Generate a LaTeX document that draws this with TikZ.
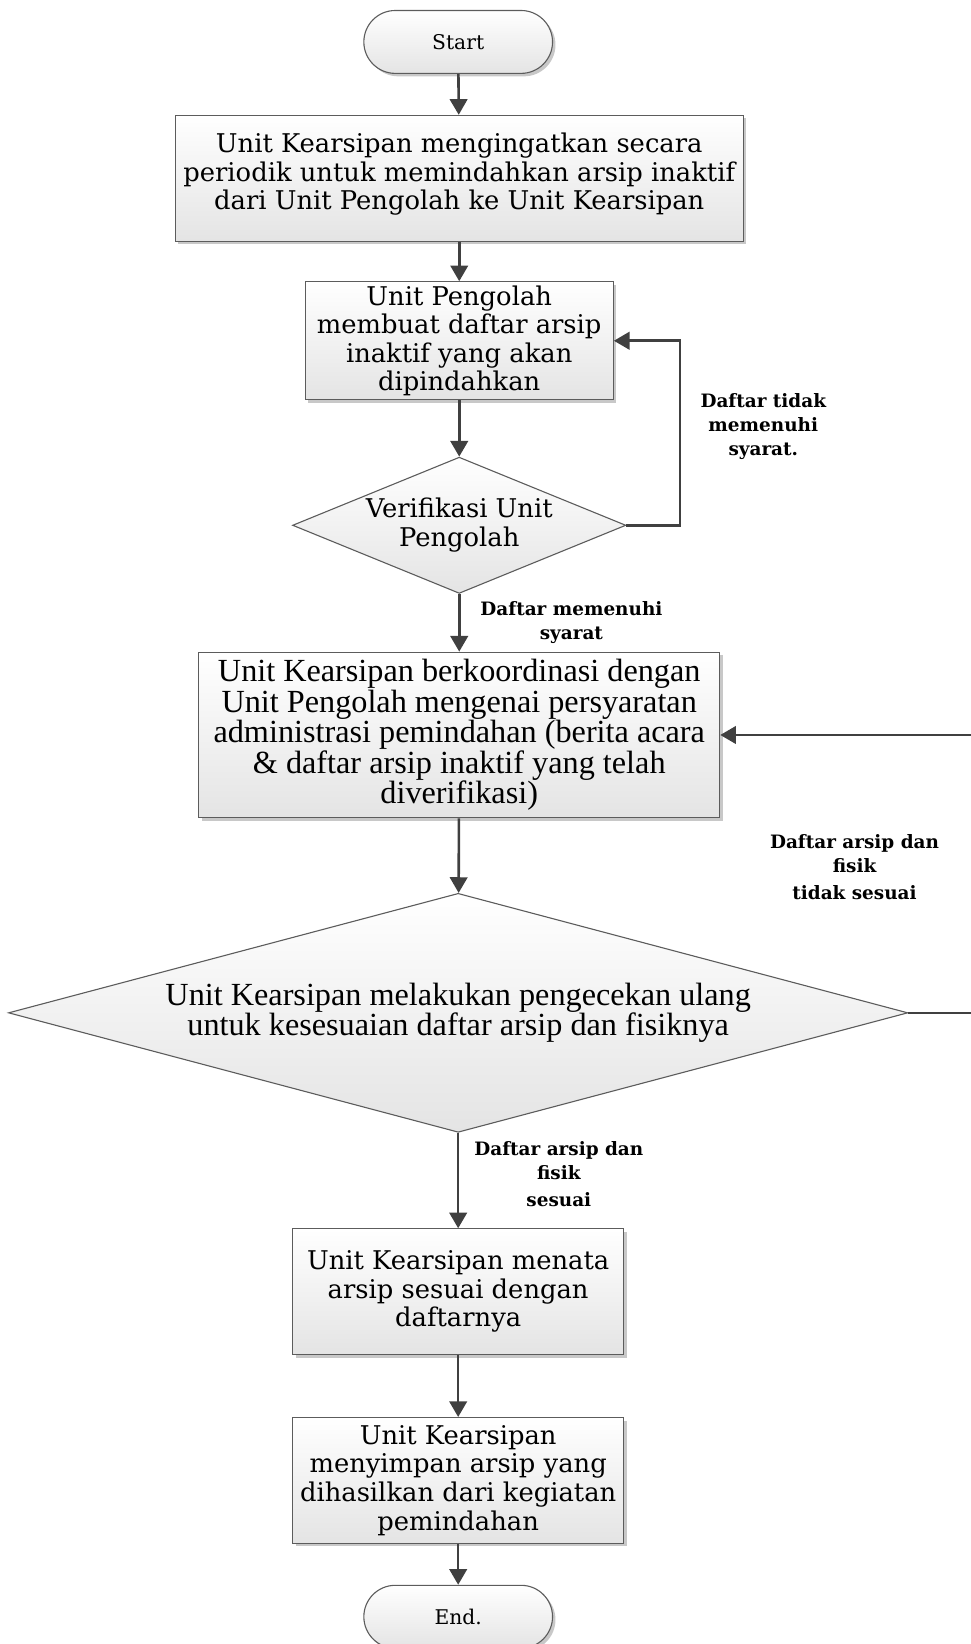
\documentclass[tikz,border=0pt]{standalone}
\usepackage{fontspec}
\setmainfont{DejaVu Serif}
\newfontfamily\sempit{Liberation Serif}
\usepackage{tikz}
\usetikzlibrary{arrows.meta,shapes.geometric,shadows}
\definecolor{garis}{HTML}{404040}
\definecolor{tepi}{HTML}{5C5C5C}
\definecolor{bayang}{HTML}{C8C8C8}
\definecolor{isi}{HTML}{E4E4E4}

\begin{document}
\begin{tikzpicture}[x=0.02cm, y=-0.02cm]

        \tikzset{kotak/.style = {shape=rectangle, draw=tepi, line width=0.6pt, top color=white, bottom color=isi, drop shadow={shadow xshift=1.6pt, shadow yshift=-1.6pt, fill=bayang, opacity=1}, align=center, inner sep=2pt, font=\fontsize{14}{15.5}\selectfont}}
        \tikzset{terminal/.style = {kotak, rounded corners=0.6cm, minimum width=3.6cm, minimum height=1.2cm, font=\fontsize{11}{13}\selectfont}}
        \tikzset{keputusan/.style = {shape=diamond, draw=tepi, line width=0.6pt, top color=white, bottom color=isi, align=center, inner sep=0pt, font=\fontsize{14}{15.5}\selectfont}}
        \tikzset{panah/.style = {draw=garis, line width=1.4pt, -{Triangle[width=9.5pt,length=8.5pt]}}}
        \tikzset{ket/.style = {align=center, inner sep=0pt, font=\fontsize{10}{13}\selectfont\bfseries}}

        \useasboundingbox (0,0) rectangle (926,1568);
        \clip (0,0) rectangle (926,1568);

        \node[terminal] (start) at (437,40) {Start};
        \node[kotak, minimum width=10.84cm, minimum height=2.4cm] (p1) at (438,170) {Unit Kearsipan mengingatkan secara\\periodik untuk memindahkan arsip inaktif\\dari Unit Pengolah ke Unit Kearsipan\\[-8pt]\mbox{}};
        \node[kotak, minimum width=5.88cm, minimum height=2.2cm] (p2) at (438,325) {Unit Pengolah\\membuat daftar arsip\\inaktif yang akan\\dipindahkan};
        \node[keputusan, aspect=2.45, minimum width=6.36cm, minimum height=2.6cm] (v1) at (438,501) {Verifikasi Unit\\Pengolah};
        \node[kotak, minimum width=9.94cm, minimum height=3.16cm, font=\sempit\fontsize{17.5}{16.6}\selectfont] (p3) at (438,701) {Unit Kearsipan berkoordinasi dengan\\Unit Pengolah mengenai persyaratan\\administrasi pemindahan (berita acara\\\& daftar arsip inaktif yang telah\\diverifikasi)};
        \node[keputusan, aspect=3.76, minimum width=17.16cm, minimum height=4.56cm, font=\sempit\fontsize{17.5}{16.6}\selectfont] (v2) at (437,966) {Unit Kearsipan melakukan pengecekan ulang\\untuk kesesuaian daftar arsip dan fisiknya};
        \node[kotak, minimum width=6.32cm, minimum height=2.4cm] (p4) at (437,1232) {Unit Kearsipan menata\\arsip sesuai dengan\\daftarnya};
        \node[kotak, minimum width=6.32cm, minimum height=2.4cm] (p5) at (437,1412) {Unit Kearsipan\\menyimpan arsip yang\\dihasilkan dari kegiatan\\pemindahan};
        \node[terminal] (finish) at (437,1542) {End.};

        \node[ket] (k1) at (728,407) {Daftar tidak\\memenuhi\\syarat.};
        \node[ket] (k2) at (545,594) {Daftar memenuhi\\syarat};
        \node[ket] (k3) at (815,827) {Daftar arsip dan\\fisik\\[2pt]tidak sesuai};
        \node[ket] (k4) at (533,1120) {Daftar arsip dan\\fisik\\[2pt]sesuai};

        \draw[panah] (start) to (p1);
        \draw[panah] (p1) to (p2);
        \draw[panah] (p2) to (v1);
        \draw[panah] (v1.east) -- ++(51,0) |- (p2.east);
        \draw[panah] (v1) to (p3);
        \draw[panah] (p3) to (v2);
        \draw[panah] (v2.east) -- ++(66,0) |- (p3.east);
        \draw[panah] (v2) to (p4);
        \draw[panah] (p4) to (p5);
        \draw[panah] (p5) to (finish);
\end{tikzpicture}
\end{document}
